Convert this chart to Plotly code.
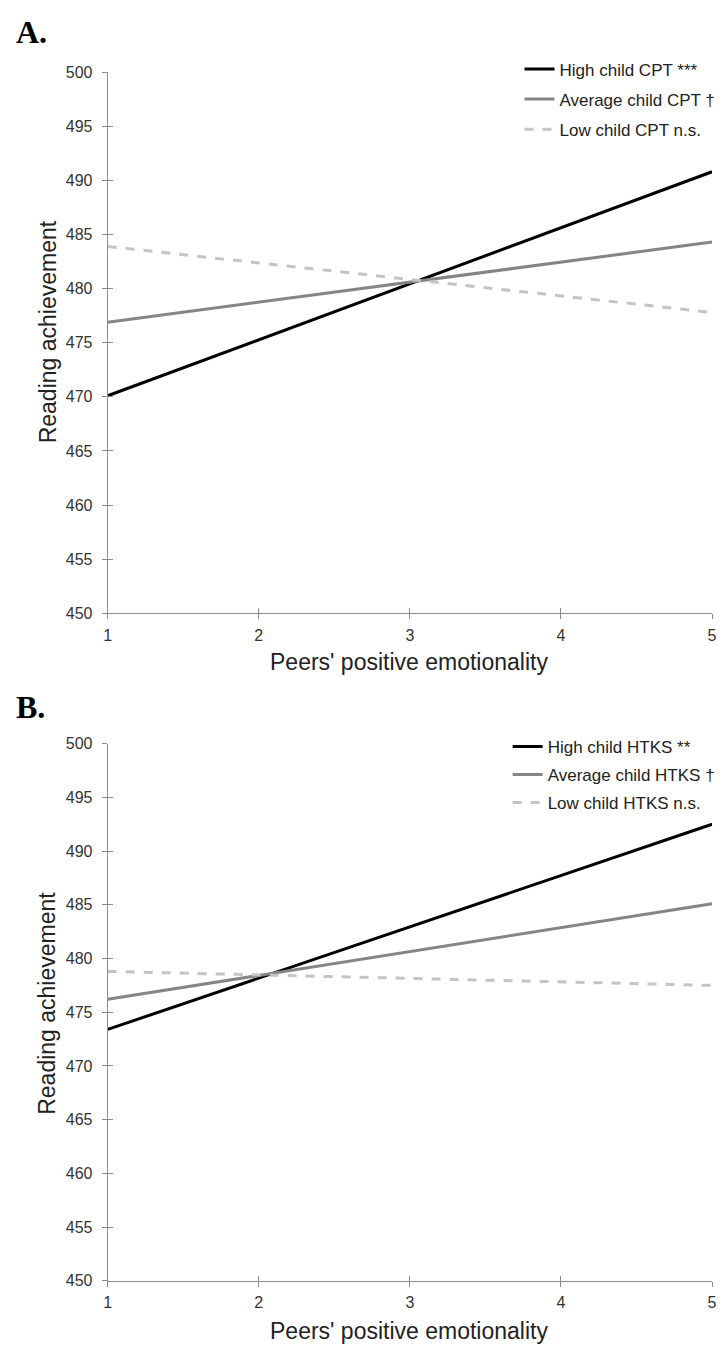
import plotly.graph_objects as go

x_vals = [1, 5]

a_names = ["High child CPT ***", "Average child CPT †", "Low child CPT n.s."]
a_high = [470.1, 490.8]
a_avg = [476.9, 484.3]
a_low = [483.9, 477.8]

b_names = ["High child HTKS **", "Average child HTKS †", "Low child HTKS n.s."]
b_high = [473.4, 492.5]
b_avg = [476.2, 485.1]
b_low = [478.8, 477.5]

y_ticks = [450, 455, 460, 465, 470, 475, 480, 485, 490, 495, 500]
x_ticks = [1, 2, 3, 4, 5]

colors = ["#000000", "#858585", "#c4c4c4"]
dashes = ["solid", "solid", "dash"]

W, H = 723, 1355
fig = go.Figure()

def add_panel(names, series, xa, ya, legend):
    for i, (nm, ys) in enumerate(zip(names, series)):
        fig.add_trace(go.Scatter(
            x=x_vals, y=ys, mode="lines", name=nm,
            line=dict(color=colors[i], width=3, dash=dashes[i]),
            xaxis=xa, yaxis=ya, legend=legend,
            legendgroup=legend + str(i),
        ))

add_panel(a_names, [a_high, a_avg, a_low], "x", "y", "legend")
add_panel(b_names, [b_high, b_avg, b_low], "x2", "y2", "legend2")

xdom = [105 / W, 717 / W]
ydomA = [(H - 613) / H, (H - 65) / H]
ydomB = [(H - 1289) / H, (H - 745) / H]

axcol = "#8c8c8c"
tickfont = dict(family="Liberation Sans, Arial, sans-serif", size=16, color="#333333")

def xaxis(anchor, overlay=None, inside=False):
    d = dict(domain=xdom, range=[1, 5], anchor=anchor, tickvals=x_ticks,
             showgrid=False, zeroline=False, ticklen=5, tickcolor=axcol,
             tickwidth=1, fixedrange=True)
    if inside:
        d.update(ticks="inside", showline=False, showticklabels=False, overlaying=overlay)
    else:
        d.update(ticks="outside", showline=True, linecolor=axcol, linewidth=1,
                 tickfont=tickfont, ticklabelstandoff=2)
    return d

def yaxis(anchor, dom, overlay=None, inside=False):
    d = dict(domain=dom, range=[450, 500], anchor=anchor, tickvals=y_ticks,
             showgrid=False, zeroline=False, ticklen=5, tickcolor=axcol,
             tickwidth=1, fixedrange=True)
    if inside:
        d.update(ticks="inside", showline=False, showticklabels=False, overlaying=overlay)
    else:
        d.update(ticks="outside", showline=True, linecolor=axcol, linewidth=1,
                 tickfont=tickfont, ticklabelstandoff=6)
    return d

legfont = dict(family="Liberation Sans, Arial, sans-serif", size=17, color="#222222")

fig.update_layout(
    width=W, height=H,
    margin=dict(l=0, r=0, t=0, b=0),
    paper_bgcolor="white", plot_bgcolor="white",
    xaxis=xaxis("y"), yaxis=yaxis("x", ydomA),
    xaxis2=xaxis("y2"), yaxis2=yaxis("x2", ydomB),
    xaxis3=xaxis("y3", overlay="x", inside=True),
    yaxis3=yaxis("x3", ydomA, overlay="y", inside=True),
    xaxis4=xaxis("y4", overlay="x2", inside=True),
    yaxis4=yaxis("x4", ydomB, overlay="y2", inside=True),
    legend=dict(x=522 / W, y=(H - 44) / H, xanchor="left", yanchor="top",
                font=legfont, bgcolor="rgba(0,0,0,0)", tracegroupgap=5),
    legend2=dict(x=510 / W, y=(H - 730) / H, xanchor="left", yanchor="top",
                 font=legfont, bgcolor="rgba(0,0,0,0)", tracegroupgap=3),
    showlegend=True,
)

# invisible traces to activate overlay axes
for xa, ya in [("x3", "y3"), ("x4", "y4")]:
    fig.add_trace(go.Scatter(x=[None], y=[None], xaxis=xa, yaxis=ya,
                             showlegend=False, hoverinfo="skip"))

serif_bold = dict(family="Liberation Serif, Times New Roman, serif", size=32, color="#000000")
title_font = dict(family="Liberation Sans, Arial, sans-serif", size=23, color="#222222")

annotations = [
    dict(text="<b>A.</b>", x=10 / W, y=(H - 24) / H, font=serif_bold),
    dict(text="<b>B.</b>", x=10 / W, y=(H - 708) / H, font=serif_bold),
    dict(text="Peers' positive emotionality", x=410 / W, y=(H - 662) / H, font=title_font, xanchor="center"),
    dict(text="Peers' positive emotionality", x=410 / W, y=(H - 1340) / H, font=title_font, xanchor="center"),
    dict(text="Reading achievement", x=44 / W, y=(H - 328) / H, font=title_font, textangle=-90, xanchor="center"),
    dict(text="Reading achievement", x=44 / W, y=(H - 1008) / H, font=title_font, textangle=-90, xanchor="center"),
]
for a in annotations:
    a.setdefault("xanchor", "left")
    a.update(xref="paper", yref="paper", yanchor="middle", showarrow=False)
fig.update_layout(annotations=annotations)

fig.write_html("out.html")
